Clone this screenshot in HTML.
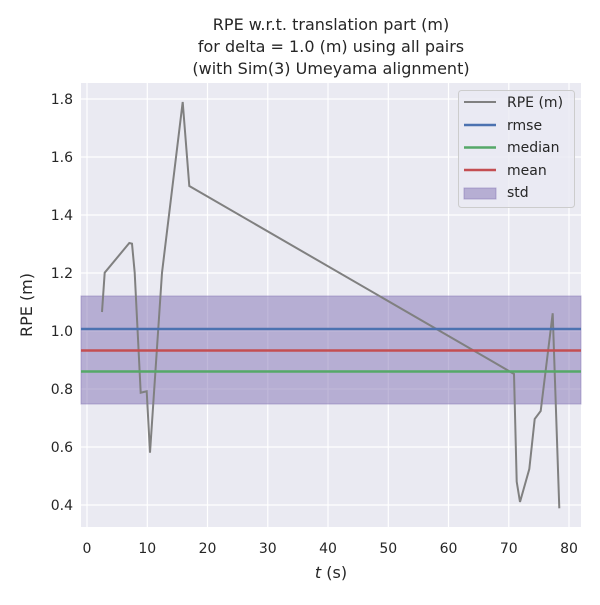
<!DOCTYPE html>
<html><head><style>body{margin:0;background:#fff}</style></head><body>
<svg width="600" height="600" xmlns="http://www.w3.org/2000/svg" font-family="DejaVu Sans, Liberation Sans, sans-serif">
<rect x="0" y="0" width="600" height="600" fill="#fff"/>
<rect x="81" y="83" width="500" height="444" fill="#eaeaf2"/>
<g stroke="#fff" stroke-width="1.2">
<line x1="87" y1="83" x2="87" y2="527"/><line x1="147.3" y1="83" x2="147.3" y2="527"/><line x1="207.5" y1="83" x2="207.5" y2="527"/><line x1="267.8" y1="83" x2="267.8" y2="527"/><line x1="328" y1="83" x2="328" y2="527"/><line x1="388.3" y1="83" x2="388.3" y2="527"/><line x1="448.5" y1="83" x2="448.5" y2="527"/><line x1="508.8" y1="83" x2="508.8" y2="527"/><line x1="569" y1="83" x2="569" y2="527"/>
<line x1="81" y1="99" x2="581" y2="99"/><line x1="81" y1="157" x2="581" y2="157"/><line x1="81" y1="215" x2="581" y2="215"/><line x1="81" y1="273" x2="581" y2="273"/><line x1="81" y1="331" x2="581" y2="331"/><line x1="81" y1="389" x2="581" y2="389"/><line x1="81" y1="447" x2="581" y2="447"/><line x1="81" y1="505" x2="581" y2="505"/>
</g>
<rect x="81" y="296" width="500" height="108" fill="#8172b3" fill-opacity="0.5" stroke="#8172b3" stroke-opacity="0.5"/>
<polyline fill="none" stroke="#808080" stroke-width="2" points="102,312 104.7,272.7 129.3,243 132,243.7 134.7,272.7 140.7,392.7 146.7,391.3 150,452.7 162,272.7 182.7,102 189.3,186 490,360 514,374 516.7,481.7 520,502 529.3,469 534.7,419 540.7,411 552.7,313.3 559.3,508.3"/>
<line x1="81" x2="581" y1="329" y2="329" stroke="#4c72b0" stroke-width="2.5"/>
<line x1="81" x2="581" y1="350.5" y2="350.5" stroke="#c44e52" stroke-width="2.5"/>
<line x1="81" x2="581" y1="371.5" y2="371.5" stroke="#55a868" stroke-width="2.5"/>
<g font-size="14" fill="#262626" text-anchor="middle">
<text x="87" y="553">0</text><text x="147.3" y="553">10</text><text x="207.5" y="553">20</text><text x="267.8" y="553">30</text><text x="328" y="553">40</text><text x="388.3" y="553">50</text><text x="448.5" y="553">60</text><text x="508.8" y="553">70</text><text x="569" y="553">80</text>
</g>
<g font-size="14" fill="#262626" text-anchor="end">
<text x="73" y="104">1.8</text><text x="73" y="162">1.6</text><text x="73" y="220">1.4</text><text x="73" y="278">1.2</text><text x="73" y="336">1.0</text><text x="73" y="394">0.8</text><text x="73" y="452">0.6</text><text x="73" y="510">0.4</text>
</g>
<text x="331" y="578" font-size="16" fill="#262626" text-anchor="middle"><tspan font-style="italic">t</tspan> (s)</text>
<text x="32" y="305" font-size="16" fill="#262626" text-anchor="middle" transform="rotate(-90 32 305)">RPE (m)</text>
<g font-size="16" fill="#262626" text-anchor="middle">
<text x="331" y="30">RPE w.r.t. translation part (m)</text>
<text x="331" y="52">for delta = 1.0 (m) using all pairs</text>
<text x="331" y="74">(with Sim(3) Umeyama alignment)</text>
</g>
<rect x="458.5" y="90.5" width="116" height="117" rx="3" fill="#eaeaf2" fill-opacity="0.8" stroke="#ccc"/>
<line x1="464" x2="496" y1="102" y2="102" stroke="#808080" stroke-width="2"/>
<line x1="464" x2="496" y1="125" y2="125" stroke="#4c72b0" stroke-width="2.5"/>
<line x1="464" x2="496" y1="147.5" y2="147.5" stroke="#55a868" stroke-width="2.5"/>
<line x1="464" x2="496" y1="170" y2="170" stroke="#c44e52" stroke-width="2.5"/>
<rect x="464" y="188" width="32" height="11" fill="#8172b3" fill-opacity="0.5" stroke="#8172b3" stroke-opacity="0.5"/>
<g font-size="14" fill="#262626">
<text x="507" y="107">RPE (m)</text><text x="507" y="130">rmse</text><text x="507" y="152">median</text><text x="507" y="175">mean</text><text x="507" y="197">std</text>
</g>
</svg>
</body></html>
